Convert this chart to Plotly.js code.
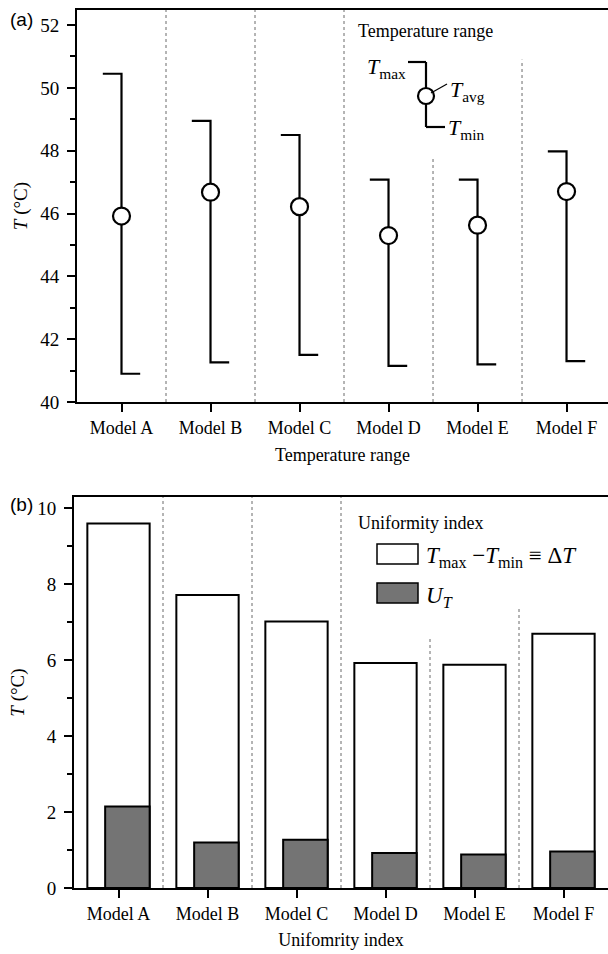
<!DOCTYPE html>
<html>
<head>
<meta charset="utf-8">
<script src="https://cdn.plot.ly/plotly-3.0.1.min.js"></script>
<style>html,body{margin:0;padding:0;background:#fff;}</style>
</head>
<body>
<div id="chart" style="width:608px;height:954px;"></div>
<script>
// ---- data ----
var models = ["Model A", "Model B", "Model C", "Model D", "Model E", "Model F"];
var tMax = [50.45, 48.95, 48.5, 47.08, 47.08, 47.98];
var tAvg = [45.92, 46.68, 46.22, 45.3, 45.63, 46.7];
var tMin = [40.9, 41.26, 41.5, 41.15, 41.2, 41.3];
var deltaT = [9.6, 7.72, 7.02, 5.93, 5.88, 6.7];
var uT = [2.15, 1.2, 1.27, 0.92, 0.88, 0.96];
// where the dotted separators begin (top of each separator, in data units)
var sepTopA = [52.48, 52.48, 52.48, 47.8, 50.9];
var sepTopB = [10.3, 10.3, 10.3, 6.6, 7.35];

var serif = "Liberation Serif, Times New Roman, serif";
var idx = models.map(function (m, i) { return i; });

// whisker paths (cap left at Tmax, cap right at Tmin)
var cap = 0.21;
var wx = [], wy = [];
idx.forEach(function (i) {
  wx.push(i - cap, i, i, i + cap, null);
  wy.push(tMax[i], tMax[i], tMin[i], tMin[i], null);
});

var traces = [
  { type: "scatter", mode: "lines", x: wx, y: wy, xaxis: "x", yaxis: "y",
    line: { color: "#000", width: 2.2 }, hoverinfo: "skip", showlegend: false },
  { type: "scatter", mode: "markers", x: idx, y: tAvg, xaxis: "x", yaxis: "y",
    marker: { symbol: "circle", size: 17, color: "#fff", line: { color: "#000", width: 2.2 } },
    name: "T avg", showlegend: false },
  { type: "bar", x: idx, y: deltaT, xaxis: "x2", yaxis: "y2", width: 0.7,
    marker: { color: "#fff", line: { color: "#000", width: 2 } }, name: "ΔT", showlegend: false },
  { type: "bar", x: idx, y: uT, xaxis: "x2", yaxis: "y2", width: 0.5, offset: -0.15,
    marker: { color: "#747474", line: { color: "#000", width: 2 } }, name: "U_T", showlegend: false }
];

var shapes = [];
for (var k = 0; k < 5; k++) {
  shapes.push({ type: "line", xref: "x", yref: "y", x0: k + 0.5, x1: k + 0.5, y0: 40, y1: sepTopA[k],
    line: { color: "#6a6a6a", width: 1, dash: "dot" }, layer: "below" });
  shapes.push({ type: "line", xref: "x2", yref: "y2", x0: k + 0.5, x1: k + 0.5, y0: 0, y1: sepTopB[k],
    line: { color: "#6a6a6a", width: 1, dash: "dot" }, layer: "below" });
}
// pixel -> paper helpers for the inset legends
function px(x) { return (x - 74) / 534; }
function py(y) { return (888 - y) / 878; }
// top legend glyph
shapes.push({ type: "line", xref: "paper", yref: "paper", x0: px(408), x1: px(426), y0: py(62), y1: py(62), line: { color: "#000", width: 2.2 } });
shapes.push({ type: "line", xref: "paper", yref: "paper", x0: px(426), x1: px(426), y0: py(62), y1: py(127), line: { color: "#000", width: 2.2 } });
shapes.push({ type: "line", xref: "paper", yref: "paper", x0: px(426), x1: px(445), y0: py(127), y1: py(127), line: { color: "#000", width: 2.2 } });
shapes.push({ type: "circle", xref: "paper", yref: "paper", x0: px(418), x1: px(434), y0: py(88), y1: py(104), fillcolor: "#fff", line: { color: "#000", width: 2.2 } });
shapes.push({ type: "line", xref: "paper", yref: "paper", x0: px(431), x1: px(447), y0: py(93), y1: py(84), line: { color: "#000", width: 1.2 } });
// bottom legend boxes
shapes.push({ type: "rect", xref: "paper", yref: "paper", x0: px(377), x1: px(418), y0: py(564), y1: py(544), fillcolor: "#fff", line: { color: "#000", width: 1.5 } });
shapes.push({ type: "rect", xref: "paper", yref: "paper", x0: px(377), x1: px(418), y0: py(603), y1: py(583), fillcolor: "#747474", line: { color: "#000", width: 1.5 } });

function ann(text, x, y, xa, size, fam) {
  return { text: text, xref: "paper", yref: "paper", x: px(x), y: py(y), xanchor: xa, yanchor: "middle",
    showarrow: false, font: { family: fam || serif, size: size, color: "#000" } };
}
var sans = "Liberation Sans, Arial, sans-serif";
var annotations = [
  ann("(a)", 8, 19, "left", 19, sans),
  ann("(b)", 8, 505, "left", 19, sans),
  ann("Temperature range", 356, 31, "left", 18),
  ann("<i>T</i><sub>max</sub>", 408, 68, "right", 22),
  ann("<i>T</i><sub>avg</sub>", 448, 91, "left", 22),
  ann("<i>T</i><sub>min</sub>", 446, 129, "left", 22),
  ann("Uniformity index", 356, 523, "left", 18),
  ann("<i>T</i><sub>max</sub> −<i>T</i><sub>min</sub> ≡ Δ<i>T</i>", 424, 557, "left", 23),
  ann("<i>U</i><sub><i>T</i></sub>", 424, 597, "left", 23)
];

var xCommon = {
  tickmode: "array", tickvals: idx, ticktext: models,
  ticks: "outside", ticklen: 8, tickwidth: 2, tickcolor: "#000",
  showline: true, linewidth: 2, linecolor: "#000", mirror: true,
  showgrid: false, zeroline: false, automargin: false,
  tickfont: { family: serif, size: 18, color: "#000" }
};
var yCommon = {
  ticks: "outside", ticklen: 8, tickwidth: 2, tickcolor: "#000",
  ticklabelstandoff: 4,
  showline: true, linewidth: 2, linecolor: "#000",
  showgrid: false, zeroline: false, automargin: false,
  tickfont: { family: serif, size: 19, color: "#000" },
  minor: { ticks: "outside", ticklen: 5, tickwidth: 2, tickcolor: "#000", dtick: 1, showgrid: false }
};

var layout = {
  width: 608, height: 954,
  margin: { l: 74, r: 0, t: 10, b: 66 },
  paper_bgcolor: "#fff", plot_bgcolor: "#fff",
  barmode: "overlay", showlegend: false,
  xaxis: Object.assign({}, xCommon, { domain: [3 / 534, 1], range: [-0.5, 5.466], anchor: "y",
    title: { text: "Temperature range", font: { family: serif, size: 18, color: "#000" }, standoff: 12 } }),
  yaxis: Object.assign({}, yCommon, { domain: [(888 - 402) / 878, 1], range: [40, 52.48], dtick: 2, tick0: 40, anchor: "x",
    title: { text: "<i>T</i> (°C)", font: { family: serif, size: 19, color: "#000" }, standoff: 8 } }),
  xaxis2: Object.assign({}, xCommon, { domain: [0, 1], range: [-0.5, 5.5], anchor: "y2",
    title: { text: "Unifomrity index", font: { family: serif, size: 18, color: "#000" }, standoff: 11 } }),
  yaxis2: Object.assign({}, yCommon, { domain: [0, (888 - 497) / 878], range: [0, 10.3], dtick: 2, tick0: 0, anchor: "x2",
    title: { text: "<i>T</i> (°C)", font: { family: serif, size: 19, color: "#000" }, standoff: 8 } }),
  shapes: shapes,
  annotations: annotations
};

Plotly.newPlot("chart", traces, layout, { staticPlot: true, displayModeBar: false });
</script>
</body>
</html>
